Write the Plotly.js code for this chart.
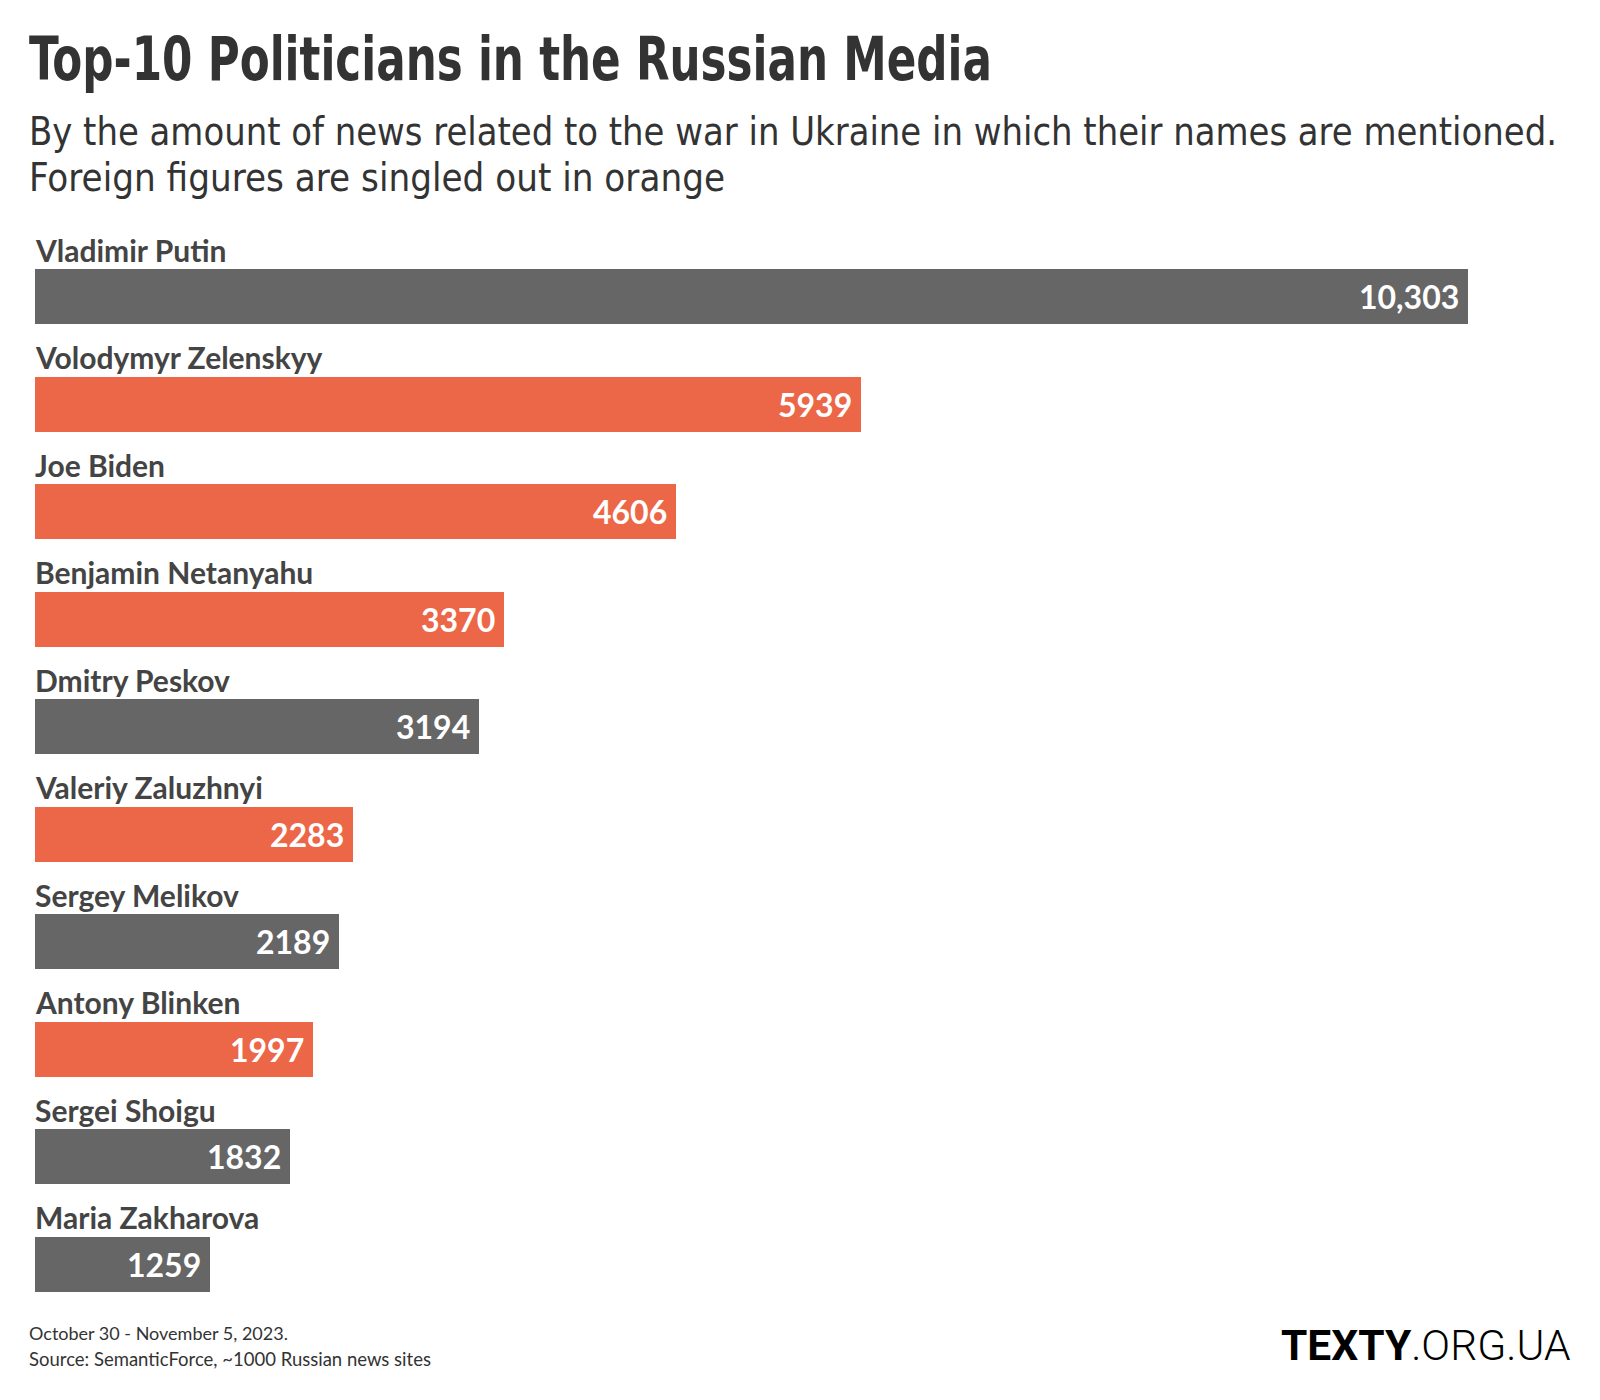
<!DOCTYPE html>
<html>
<head>
<meta charset="utf-8">
<script src="https://cdn.plot.ly/plotly-3.0.1.min.js"></script>
<style>
html,body{margin:0;padding:0;background:#fff;}
#chart{width:1600px;height:1400px;}
</style>
</head>
<body>
<div id="chart"></div>
<script>
const names = ["Vladimir Putin","Volodymyr Zelenskyy","Joe Biden","Benjamin Netanyahu","Dmitry Peskov","Valeriy Zaluzhnyi","Sergey Melikov","Antony Blinken","Sergei Shoigu","Maria Zakharova"];
const mentions = [10303,5939,4606,3370,3194,2283,2189,1997,1832,1259];
const foreign = [false,true,true,true,false,true,false,true,false,false];

const titleText = "Top-10 Politicians in the Russian Media";
const subtitle1 = "By the amount of news related to the war in Ukraine in which their names are mentioned.";
const subtitle2 = "Foreign figures are singled out in orange";
const footer1 = "October 30 - November 5, 2023.";
const footer2 = "Source: SemanticForce, ~1000 Russian news sites";

const GRAY = "#666666";
const ORANGE = "#EC6748";
const W = 1600, H = 1400;
const ML = 35, MR = 35, MT = 243, MB = 82;
const PW = W - ML - MR, PH = H - MT - MB;
const px = x => (x - ML) / PW;
const py = y => (H - MB - y) / PH;

const condensed = '"Liberation Sans Narrow", "DejaVu Sans Condensed", "Roboto", sans-serif';
const sans = '"Source Sans Pro", Lato, "Noto Sans", sans-serif';

function fmt(v){ return v >= 10000 ? v.toLocaleString("en-US") : String(v); }

const trace = {
  type: "bar",
  orientation: "h",
  y: names,
  x: mentions,
  width: 0.512,
  marker: {color: foreign.map(f => f ? ORANGE : GRAY), line: {width: 0}},
  hoverinfo: "skip",
  textposition: "none"
};

const annotations = [];
names.forEach((n, i) => {
  annotations.push({
    x: 0, y: n, xref: "x", yref: "y",
    text: n, showarrow: false, xanchor: "left", yanchor: "bottom", align: "left",
    xshift: -1, yshift: 28, borderpad: 0,
    font: {family: sans, size: 30, color: "#444444", weight: 700}
  });
  annotations.push({
    x: mentions[i], y: n, xref: "x", yref: "y",
    text: fmt(mentions[i]), showarrow: false, xanchor: "right", yanchor: "middle", align: "right",
    xshift: -8, yshift: 0, borderpad: 0,
    font: {family: sans, size: 32, color: "#ffffff", weight: 700}
  });
});

annotations.push({
  xref: "paper", yref: "paper", x: px(28), y: py(59), xanchor: "left", yanchor: "middle", align: "left",
  text: titleText, showarrow: false, borderpad: 0,
  font: {family: condensed, size: 60, color: "#333333", weight: 700}
});
annotations.push({
  xref: "paper", yref: "paper", x: px(28), y: py(131.5), xanchor: "left", yanchor: "middle", align: "left",
  text: subtitle1, showarrow: false, borderpad: 0,
  font: {family: condensed, size: 38.5, color: "#333333"}
});
annotations.push({
  xref: "paper", yref: "paper", x: px(28), y: py(177.5), xanchor: "left", yanchor: "middle", align: "left",
  text: subtitle2, showarrow: false, borderpad: 0,
  font: {family: condensed, size: 38.5, color: "#333333"}
});
annotations.push({
  xref: "paper", yref: "paper", x: px(28), y: py(1333), xanchor: "left", yanchor: "middle", align: "left",
  text: footer1, showarrow: false, borderpad: 0,
  font: {family: sans, size: 18, color: "#333333"}
});
annotations.push({
  xref: "paper", yref: "paper", x: px(28), y: py(1359), xanchor: "left", yanchor: "middle", align: "left",
  text: footer2, showarrow: false, borderpad: 0,
  font: {family: sans, size: 18.5, color: "#333333"}
});
annotations.push({
  xref: "paper", yref: "paper", x: px(1571), y: py(1345), xanchor: "right", yanchor: "middle", align: "right",
  text: "<b>TEXTY</b>.ORG.UA", showarrow: false, borderpad: 0,
  font: {family: 'Roboto, Inter, sans-serif', size: 42.5, color: "#000000", weight: 300}
});

const layout = {
  width: W, height: H,
  margin: {l: ML, r: MR, t: MT, b: MB, pad: 0},
  paper_bgcolor: "#ffffff", plot_bgcolor: "#ffffff",
  showlegend: false,
  bargap: 0,
  xaxis: {range: [0, 11000], visible: false, fixedrange: true},
  yaxis: {type: "category", range: [9.5, -0.5], visible: false, fixedrange: true},
  annotations: annotations
};

// target rendered widths (px) for condensed display texts
const fitWidths = {};
fitWidths[titleText] = 963;
fitWidths[subtitle1] = 1528;
fitWidths[subtitle2] = 696;

Plotly.newPlot("chart", [trace], layout, {displayModeBar: false, staticPlot: true}).then(gd => {
  gd.querySelectorAll("g.annotation-text-g").forEach(g => {
    const t = g.querySelector("text.annotation-text");
    if (!t) return;
    const w = fitWidths[t.textContent];
    if (!w) return;
    t.setAttribute("textLength", w);
    t.setAttribute("lengthAdjust", "spacingAndGlyphs");
    const r = g.querySelector("rect.bg");
    if (r) r.setAttribute("width", w);
  });
});
</script>
</body>
</html>
